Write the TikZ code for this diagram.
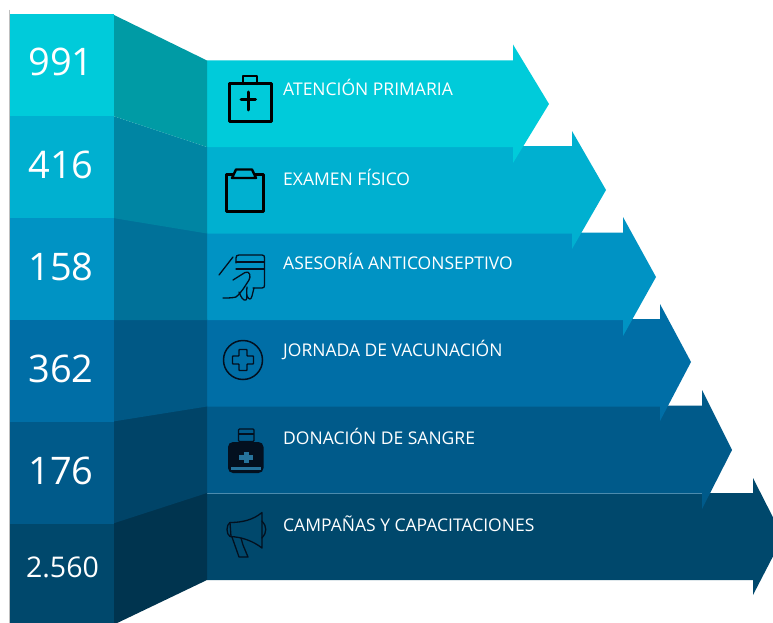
\documentclass[tikz,border=0pt]{standalone}
\usepackage{fontspec}
\setmainfont{Open Sans}
\definecolor{ca}{HTML}{00CBDA}\definecolor{cb}{HTML}{00B0D0}\definecolor{cc}{HTML}{0093C4}
\definecolor{cd}{HTML}{006EA6}\definecolor{ce}{HTML}{005A8A}\definecolor{cf}{HTML}{00486C}
\definecolor{ma}{HTML}{009BA5}\definecolor{mb}{HTML}{0085A3}\definecolor{mc}{HTML}{007199}
\definecolor{md}{HTML}{005885}\definecolor{me}{HTML}{004468}\definecolor{mf}{HTML}{00344F}
\definecolor{ink}{HTML}{03101F}
\tikzset{
  num/.style={text=white,anchor=center,font=\fontsize{38}{38}\selectfont,inner sep=0pt},
  lab/.style={text=white,anchor=west,font=\fontsize{17.5}{18}\selectfont,inner sep=0pt},
  ico/.style={draw=ink,line width=1.3pt,line join=round,line cap=round},
  icob/.style={draw=black,line width=3pt,line join=round,line cap=round}
}
\newcommand{\harrow}[7]{%
  \fill[#7] (207,#1-1) -- (#2,#1-1) -- (#2,#1) -- (#2,#3) -- (#4,#5) -- (#2,#6) -- (#2,#1+86.5) -- (207,#1+86.5) -- cycle;}
\begin{document}
\begin{tikzpicture}[x=1pt,y=-1pt]
\useasboundingbox (0,0) rectangle (773,623);
\begin{scope}
\clip (0,0) rectangle (773,623);
\fill[white] (0,0) rectangle (773,623);
\draw[black!25,line width=0.6pt] (9.5,10) -- (9.5,623);
% arrows, lowest first
\fill[cf] (207,493) -- (753,493) -- (753,478) -- (783,537) -- (753,595) -- (753,580) -- (207,580) -- cycle;
\fill[ce] (207,405.5) -- (702,405.5) -- (702,390) -- (732,450) -- (702,509) -- (702,493) -- (207,493) -- cycle;
\draw[white!30!ce,line width=0.7pt] (207,493) -- (702,493);
\harrow{320}{660}{304}{691}{362}{421}{cd}
\harrow{233.5}{623}{217}{656}{277}{336}{cc}
\harrow{147}{572}{131}{606}{190}{249}{cb}
\fill[ca] (207,60.5) -- (513,60.5) -- (513,44.5) -- (549,104) -- (513,163) -- (513,147) -- (207,147) -- cycle;
% side panels, lowest first so that each overlaps the next
\fill[mf] (113,522.5) -- (207,492) -- (207,580) -- (113,625) -- cycle;
\fill[me] (113,420.5) -- (207,405.5) -- (207,493) -- (113,523.5) -- cycle;
\fill[md] (113,319) -- (207,319) -- (207,406.5) -- (113,421.5) -- cycle;
\fill[mc] (113,217) -- (207,232.5) -- (207,320) -- (113,320) -- cycle;
\fill[mb] (113,116) -- (207,147) -- (207,233.5) -- (113,218) -- cycle;
\fill[ma] (113,14.5) -- (207,60.5) -- (207,147) -- (113,116) -- cycle;
% number columns
\fill[cf] (10,522.5) rectangle (113.5,623);
\fill[ce] (10,420.5) rectangle (113.5,523.5);
\fill[cd] (10,319) rectangle (113.5,421.5);
\fill[cc] (10,217) rectangle (113.5,320);
\fill[cb] (10,115) rectangle (113.5,218);
\fill[ca] (10,14.5) rectangle (113.5,116);
\end{scope}
\node[num] (n1) at (61,62) {991};
\node[num] (n2) at (61,165) {416};
\node[num] (n3) at (61,267) {158};
\node[num] (n4) at (61,369) {362};
\node[num] (n5) at (61,471) {176};
\node[num,font=\fontsize{28.5}{29}\selectfont] (n6) at (62.5,567) {2.560};
\node[lab] (l1) at (283,87.5) {ATENCIÓN PRIMARIA};
\node[lab] (l2) at (283,177.5) {EXAMEN FÍSICO};
\node[lab] (l3) at (283,261.5) {ASESORÍA ANTICONSEPTIVO};
\node[lab] (l4) at (283,349.5) {JORNADA DE VACUNACIÓN};
\node[lab] (l5) at (283,436.5) {DONACIÓN DE SANGRE};
\node[lab] (l6) at (283,523.5) {CAMPAÑAS Y CAPACITACIONES};
% icon: kit
\draw[icob] (229,84) rectangle (271,122);
\draw[icob,line width=2.4pt] (243,84) -- (243,76) -- (257,76) -- (257,84);
\draw[icob] (241,100) -- (255.5,100) (248,92) -- (248,110);
% icon: clipboard
\draw[icob] (233,174) -- (226,174) -- (226,211) -- (263,211) -- (263,174) -- (255,174);
\draw[icob,line width=2.4pt] (232,178) -- (236,169.5) -- (252,169.5) -- (256,178) -- cycle;
% icon: hand with card
\draw[ico] (236,263) -- (236,258) .. controls (236,256) and (237,255) .. (239,255) -- (262,255) .. controls (264,255) and (264.5,256) .. (264.5,258) -- (264.5,285) .. controls (264.5,287) and (264,288) .. (262,288) -- (253,288);
\draw[ico] (236,262) -- (264.5,262) (236,269) -- (264.5,269);
\draw[ico] (233,257) -- (219,275);
\draw[ico] (233,280) -- (245,272.5) .. controls (250,270) and (251,277) .. (249,280) .. controls (245,286) and (242,292) .. (236,297) .. controls (232,298) and (228,298) .. (223,298);
\draw[ico] (239,292) .. controls (241,297) and (243,301) .. (246,300) .. controls (248,299) and (246,292) .. (247,287);
\draw[ico] (247,296) .. controls (249,300) and (251,300) .. (252,296) -- (254,288);
% icon: cross in circle
\draw[ico,line width=1.5pt] (243,360) circle (19.5);
\draw[ico,line width=1.4pt,rounded corners=0.7pt] (239,349.5) -- (247,349.5) -- (247,356) -- (253.5,356) -- (253.5,364) -- (247,364) -- (247,370.5) -- (239,370.5) -- (239,364) -- (232.5,364) -- (232.5,356) -- (239,356) -- cycle;
% icon: bottle
\fill[ink,rounded corners=5pt] (228,442) rectangle (263.5,473);
\draw[ink,line width=1.4pt,rounded corners=1pt] (238.5,429) rectangle (254,441.5);
\draw[ink,line width=1.4pt] (238.5,434) -- (254,434);
\fill[ce!85!white] (231,467) rectangle (261,469.5);
\fill[ce!85!white] (243.5,452) rectangle (248.5,463);
\fill[ce!85!white] (239,455) rectangle (253,460);
% icon: megaphone
\draw[ico] (230,522.5) .. controls (242,522.5) and (253,520) .. (262,512.5) -- (262,548) .. controls (253,541) and (242,537) .. (230,536.5);
\draw[ico] (230,522.5) .. controls (226,525) and (226,534) .. (230,536.5);
\draw[ico] (230,522.5) -- (231,536.5);
\draw[ico] (262,521) .. controls (267,526) and (267,533) .. (262,538);
\draw[ico] (232,537) -- (239,557) -- (248,557) -- (243,545) -- (241,538);
\end{tikzpicture}
\end{document}
